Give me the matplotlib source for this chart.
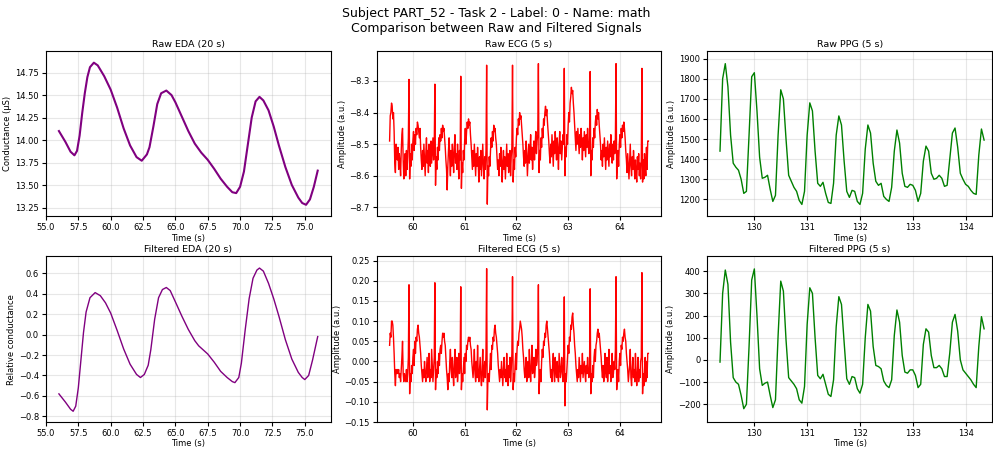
import numpy as np
import matplotlib
matplotlib.use("Agg")
import matplotlib.pyplot as plt
from matplotlib.ticker import MultipleLocator

# --- EDA (20 s window) ---
eda_t = [56.0, 56.5, 56.9, 57.2, 57.4, 57.6, 57.8, 58.0, 58.2, 58.4, 58.7, 59.0,
         59.5, 60.0, 60.5, 61.0, 61.5, 62.0, 62.4, 62.8, 63.0, 63.3, 63.6, 63.9,
         64.3, 64.7, 65.0, 65.5, 66.0, 66.5, 67.0, 67.5, 68.0, 68.5, 69.0, 69.4,
         69.7, 70.0, 70.3, 70.6, 70.9, 71.2, 71.5, 71.8, 72.2, 72.6, 73.0, 73.5,
         74.0, 74.5, 74.8, 75.1, 75.4, 75.7, 76.0]
eda_raw = [14.10, 13.98, 13.87, 13.83, 13.88, 14.05, 14.30, 14.52, 14.70, 14.81, 14.86, 14.83,
           14.71, 14.56, 14.36, 14.13, 13.94, 13.81, 13.77, 13.84, 13.92, 14.15, 14.40, 14.52,
           14.55, 14.50, 14.42, 14.26, 14.10, 13.96, 13.86, 13.78, 13.68, 13.57, 13.48, 13.42,
           13.41, 13.48, 13.65, 13.95, 14.25, 14.43, 14.48, 14.44, 14.33, 14.15, 13.94, 13.70,
           13.50, 13.36, 13.30, 13.28, 13.34, 13.48, 13.66]

eda_ft = [56.0, 56.5, 56.9, 57.1, 57.3, 57.5, 57.7, 57.9, 58.1, 58.4, 58.8, 59.2,
          59.6, 60.0, 60.5, 61.0, 61.5, 62.0, 62.3, 62.6, 62.9, 63.1, 63.4, 63.7,
          64.0, 64.3, 64.6, 65.0, 65.5, 66.0, 66.5, 66.8, 67.5, 68.0, 68.5, 69.0,
          69.4, 69.6, 69.9, 70.1, 70.4, 70.7, 71.0, 71.3, 71.5, 71.8, 72.2, 72.6,
          73.0, 73.5, 74.0, 74.5, 74.8, 75.0, 75.3, 75.6, 76.0]
eda_filt = [-0.58, -0.66, -0.73, -0.75, -0.70, -0.52, -0.25, 0.02, 0.22, 0.36, 0.41, 0.38,
            0.31, 0.21, 0.04, -0.14, -0.29, -0.39, -0.42, -0.39, -0.30, -0.15, 0.15, 0.36,
            0.44, 0.46, 0.43, 0.32, 0.18, 0.05, -0.06, -0.11, -0.19, -0.27, -0.36, -0.42,
            -0.46, -0.47, -0.42, -0.28, 0.05, 0.35, 0.55, 0.63, 0.65, 0.62, 0.50, 0.35,
            0.18, -0.05, -0.24, -0.37, -0.42, -0.44, -0.40, -0.25, -0.02]

# --- ECG (5 s window, 80 samples/s) ---
ecg_start = 59.55
ecg_fs = 80
ecg_raw = [
    -8.49, -8.41, -8.40, -8.37, -8.38, -8.42, -8.40, -8.46, -8.56, -8.59, -8.50, -8.52, -8.55, -8.51, -8.58,
    -8.53, -8.56, -8.60, -8.52, -8.47, -8.45, -8.55, -8.61, -8.56, -8.53, -8.60, -8.52, -8.58, -8.54, -8.48,
    # beat 1
    -8.295, -8.61, -8.53, -8.57, -8.50, -8.55, -8.49, -8.46, -8.52, -8.47, -8.50, -8.45, -8.47, -8.43, -8.44, -8.46, -8.48, -8.45, -8.51, -8.55,
    -8.58, -8.52, -8.57, -8.50, -8.55, -8.60, -8.53, -8.48, -8.56, -8.52, -8.59, -8.50, -8.54, -8.57, -8.49, -8.56, -8.52, -8.48, -8.55, -8.51,
    # beat 2
    -8.31, -8.63, -8.54, -8.58, -8.51, -8.55, -8.48, -8.52, -8.47, -8.49, -8.45, -8.48, -8.44, -8.46, -8.45, -8.48, -8.51, -8.55, -8.58, -8.645,
    -8.57, -8.52, -8.48, -8.55, -8.60, -8.52, -8.57, -8.50, -8.54, -8.59, -8.51, -8.47, -8.56, -8.53, -8.58, -8.50, -8.55, -8.61, -8.52, -8.55,
    # beat 3
    -8.285, -8.64, -8.56, -8.59, -8.52, -8.55, -8.49, -8.45, -8.50, -8.46, -8.43, -8.45, -8.42, -8.44, -8.43, -8.47, -8.50, -8.54, -8.58, -8.52,
    -8.57, -8.50, -8.55, -8.60, -8.53, -8.57, -8.51, -8.56, -8.62, -8.54, -8.58, -8.52, -8.60, -8.55, -8.50, -8.57, -8.61, -8.54, -8.58, -8.52,
    # beat 4
    -8.25, -8.69, -8.57, -8.60, -8.54, -8.57, -8.52, -8.48, -8.51, -8.46, -8.49, -8.44, -8.46, -8.45, -8.48, -8.50, -8.54, -8.58, -8.55, -8.60,
    -8.53, -8.57, -8.51, -8.55, -8.62, -8.56, -8.52, -8.58, -8.54, -8.61, -8.55, -8.50, -8.57, -8.53, -8.59, -8.55, -8.52, -8.60, -8.54, -8.51,
    # beat 5
    -8.25, -8.62, -8.55, -8.58, -8.51, -8.54, -8.48, -8.45, -8.47, -8.42, -8.44, -8.40, -8.42, -8.41, -8.44, -8.47, -8.50, -8.54, -8.57, -8.52,
    -8.56, -8.49, -8.53, -8.60, -8.55, -8.50, -8.56, -8.52, -8.47, -8.55, -8.51, -8.58, -8.53, -8.49, -8.55, -8.50, -8.46, -8.53, -8.49, -8.47,
    # beat 6
    -8.245, -8.59, -8.52, -8.55, -8.48, -8.51, -8.45, -8.48, -8.42, -8.44, -8.40, -8.38, -8.41, -8.39, -8.43, -8.46, -8.49, -8.53, -8.56, -8.50,
    -8.54, -8.47, -8.52, -8.57, -8.49, -8.53, -8.46, -8.51, -8.55, -8.48, -8.52, -8.58, -8.50, -8.46, -8.53, -8.49, -8.55, -8.51, -8.47, -8.50,
    # beat 7
    -8.26, -8.60, -8.51, -8.54, -8.47, -8.50, -8.44, -8.40, -8.43, -8.37, -8.35, -8.32, -8.34, -8.33, -8.37, -8.40, -8.44, -8.48, -8.52, -8.46,
    -8.50, -8.45, -8.49, -8.53, -8.47, -8.51, -8.45, -8.49, -8.55, -8.48, -8.52, -8.46, -8.50, -8.54, -8.47, -8.51, -8.45, -8.50, -8.53, -8.49,
    # beat 8
    -8.27, -8.60, -8.52, -8.55, -8.48, -8.51, -8.45, -8.48, -8.43, -8.41, -8.44, -8.39, -8.42, -8.40, -8.44, -8.47, -8.50, -8.55, -8.52, -8.57,
    -8.50, -8.54, -8.48, -8.53, -8.58, -8.51, -8.55, -8.49, -8.53, -8.57, -8.50, -8.54, -8.47, -8.52, -8.56, -8.50, -8.55, -8.49, -8.53, -8.48,
    # beat 9
    -8.245, -8.61, -8.56, -8.52, -8.57, -8.50, -8.47, -8.51, -8.45, -8.48, -8.44, -8.46, -8.43, -8.45, -8.48, -8.52, -8.55, -8.59, -8.53, -8.57,
    -8.61, -8.55, -8.50, -8.57, -8.60, -8.54, -8.58, -8.52, -8.56, -8.61, -8.55, -8.59, -8.62, -8.54, -8.58, -8.53, -8.60, -8.56, -8.61, -8.55,
    # beat 10
    -8.26, -8.62, -8.55, -8.61, -8.53, -8.57, -8.60, -8.51, -8.58, -8.49, -8.49]

ecg_filt = [
    0.04, 0.07, 0.06, 0.10, 0.10, 0.09, 0.06, 0.02, -0.03, -0.06, -0.02, -0.03, -0.02, -0.03, -0.02,
    -0.04, -0.03, -0.05, -0.02, 0.01, 0.05, -0.03, -0.05, -0.03, -0.04, -0.05, -0.02, -0.05, -0.03, 0.01,
    # beat 1
    0.19, -0.08, -0.03, -0.05, -0.01, -0.03, 0.01, 0.03, -0.01, 0.05, 0.02, 0.06, 0.05, 0.08, 0.09, 0.07, 0.06, 0.04, 0.02, -0.01,
    -0.03, -0.05, -0.02, -0.04, 0.00, -0.03, -0.05, -0.02, 0.01, -0.04, -0.03, 0.02, -0.05, -0.02, -0.04, 0.03, -0.01, -0.05, -0.02, 0.01,
    # beat 2
    0.195, -0.07, -0.02, -0.04, 0.00, -0.03, 0.02, -0.01, 0.03, 0.04, 0.02, 0.05, 0.07, 0.06, 0.07, 0.05, 0.04, 0.01, -0.02, -0.04,
    -0.07, -0.03, -0.05, 0.00, 0.03, -0.02, -0.04, 0.01, -0.03, -0.06, -0.01, 0.03, -0.04, -0.02, 0.01, -0.05, -0.02, 0.02, -0.03, -0.01,
    # beat 3
    0.185, -0.07, -0.03, -0.05, -0.02, 0.01, -0.03, 0.02, 0.00, 0.04, 0.03, 0.05, 0.06, 0.05, 0.06, 0.04, 0.03, 0.00, -0.02, -0.04,
    -0.01, 0.03, -0.03, -0.05, 0.00, -0.04, 0.04, -0.03, -0.05, -0.02, 0.01, -0.04, -0.06, -0.02, 0.03, -0.05, -0.03, 0.00, -0.04, 0.02,
    # beat 4
    0.23, -0.12, -0.04, -0.03, -0.05, -0.01, 0.02, -0.02, 0.04, 0.03, 0.06, 0.05, 0.08, 0.09, 0.07, 0.06, 0.04, 0.02, -0.01, -0.03,
    -0.05, -0.02, -0.04, 0.00, -0.03, -0.06, -0.02, 0.01, -0.04, -0.02, -0.05, 0.02, -0.03, -0.06, -0.01, -0.04, 0.01, -0.05, -0.02, 0.02,
    # beat 5
    0.21, -0.07, -0.03, -0.05, -0.01, 0.02, -0.02, 0.03, 0.05, 0.04, 0.07, 0.08, 0.10, 0.09, 0.08, 0.06, 0.03, 0.01, -0.02, -0.04,
    -0.02, 0.01, -0.05, -0.03, 0.00, -0.04, 0.03, -0.02, -0.05, -0.01, 0.04, -0.03, -0.02, 0.01, -0.04, -0.02, 0.03, -0.01, 0.00, 0.04,
    # beat 6
    0.19, -0.08, -0.04, -0.02, -0.05, 0.00, 0.03, 0.01, 0.05, 0.04, 0.07, 0.06, 0.09, 0.10, 0.08, 0.06, 0.04, 0.02, -0.01, -0.04,
    -0.02, -0.05, -0.01, 0.02, -0.03, -0.05, 0.01, -0.02, -0.04, 0.00, -0.03, -0.05, 0.02, -0.01, -0.04, -0.02, 0.01, -0.03, -0.05, 0.01,
    # beat 7
    0.16, -0.11, -0.03, -0.05, -0.02, 0.01, 0.04, 0.02, 0.06, 0.05, 0.09, 0.08, 0.11, 0.12, 0.09, 0.07, 0.04, 0.02, -0.01, -0.03,
    -0.05, -0.02, -0.04, 0.01, -0.02, -0.05, -0.01, -0.03, 0.02, -0.04, -0.02, 0.00, -0.03, -0.05, -0.01, -0.03, 0.01, -0.02, -0.04, -0.02,
    # beat 8
    0.18, -0.08, -0.03, -0.05, -0.01, -0.04, 0.01, 0.03, 0.00, 0.04, 0.05, 0.07, 0.08, 0.06, 0.07, 0.05, 0.03, 0.01, -0.02, -0.04,
    -0.01, -0.05, -0.03, 0.02, -0.02, -0.04, 0.01, -0.05, -0.02, 0.03, -0.03, -0.01, -0.05, -0.02, 0.02, -0.04, -0.03, 0.00, -0.02, 0.03,
    # beat 9
    0.21, -0.07, -0.04, -0.02, -0.05, 0.00, 0.02, -0.01, 0.04, 0.03, 0.06, 0.05, 0.07, 0.08, 0.06, 0.05, 0.02, 0.00, -0.02, -0.05,
    -0.03, -0.01, 0.03, -0.04, -0.06, -0.02, 0.01, -0.04, -0.02, -0.05, 0.02, -0.03, -0.06, -0.03, 0.01, -0.05, -0.02, -0.04, 0.00, 0.01,
    # beat 10
    0.22, -0.08, -0.03, -0.06, -0.02, 0.01, -0.05, 0.00, -0.04, 0.02, 0.02]

# --- PPG (5 s window, 20 samples/s) ---
ppg_start = 129.35
ppg_fs = 20
ppg_raw = [1440, 1800, 1875, 1760, 1520, 1380, 1360, 1345, 1300, 1230,
           1240, 1520, 1810, 1830, 1640, 1410, 1305, 1310, 1320, 1250,
           1190, 1220, 1520, 1745, 1700, 1500, 1320, 1290, 1260, 1240,
           1195, 1175, 1240, 1520, 1680, 1640, 1440, 1280, 1265, 1285,
           1230, 1185, 1180, 1280, 1520, 1615, 1570, 1390, 1240, 1210,
           1245, 1240, 1190, 1175, 1230, 1450, 1570, 1530, 1380, 1290,
           1270, 1280, 1215, 1200, 1190, 1260, 1440, 1545, 1480, 1330,
           1265, 1260, 1275, 1270, 1245, 1190, 1230, 1390, 1465, 1440,
           1330, 1300, 1305, 1320, 1305, 1265, 1270, 1400, 1530, 1555,
           1460, 1330, 1300, 1275, 1265, 1245, 1230, 1225, 1420, 1550,
           1495]
ppg_filt = [-10, 300, 405, 340, 80, -80, -100, -110, -160, -220,
            -200, 60, 360, 410, 200, -40, -115, -105, -100, -160,
            -215, -180, 110, 355, 310, 90, -80, -95, -110, -130,
            -180, -195, -120, 160, 325, 300, 100, -70, -85, -65,
            -110, -155, -165, -90, 150, 285, 250, 80, -85, -110,
            -75, -80, -130, -150, -110, 100, 250, 220, 60, -25,
            -30, -40, -95, -115, -125, -90, 110, 225, 170, 20,
            -55, -60, -45, -45, -70, -125, -110, 70, 140, 125,
            20, -35, -35, -25, -40, -75, -75, 30, 170, 205,
            130, 0, -45, -60, -75, -90, -110, -125, 60, 195,
            140]

ecg_t_raw = ecg_start + np.arange(len(ecg_raw)) / ecg_fs
ecg_t_filt = ecg_start + np.arange(len(ecg_filt)) / ecg_fs
ppg_t_raw = ppg_start + np.arange(len(ppg_raw)) / ppg_fs
ppg_t_filt = ppg_start + np.arange(len(ppg_filt)) / ppg_fs

fs_small = 6

fig, axes = plt.subplots(2, 3, figsize=(9.93, 4.5), dpi=100)
fig.subplots_adjust(left=0.0463, right=0.999, top=0.8867, bottom=0.0622,
                    wspace=0.1616, hspace=0.2417)
fig.suptitle("Subject PART_52 - Task 2 - Label: 0 - Name: math\nComparison between Raw and Filtered Signals",
             fontsize=9, y=0.985)

panels = [
    (axes[0, 0], eda_t, eda_raw, "purple", 1.5, "Raw EDA (20 s)", "Conductance (µS)", (13.15, 14.99)),
    (axes[0, 1], ecg_t_raw, ecg_raw, "red", 1.0, "Raw ECG (5 s)", "Amplitude (a.u.)", (-8.729, -8.205)),
    (axes[0, 2], ppg_t_raw, ppg_raw, "green", 1.0, "Raw PPG (5 s)", "Amplitude (a.u.)", (1115, 1938)),
    (axes[1, 0], eda_ft, eda_filt, "purple", 1.0, "Filtered EDA (20 s)", "Relative conductance", (-0.855, 0.763)),
    (axes[1, 1], ecg_t_filt, ecg_filt, "red", 1.0, "Filtered ECG (5 s)", "Amplitude (a.u.)", (-0.15, 0.26)),
    (axes[1, 2], ppg_t_filt, ppg_filt, "green", 1.0, "Filtered PPG (5 s)", "Amplitude (a.u.)", (-280, 466)),
]

for ax, x, y, c, lw, title, ylab, ylim in panels:
    ax.plot(x, y, color=c, linewidth=lw)
    ax.set_title(title, fontsize=6.8, pad=3)
    ax.set_xlabel("Time (s)", fontsize=fs_small, labelpad=1)
    ax.set_ylabel(ylab, fontsize=fs_small, labelpad=2)
    ax.set_ylim(*ylim)
    ax.tick_params(labelsize=fs_small, length=3, pad=2)
    ax.grid(True, alpha=0.3)

axes[0, 0].yaxis.set_major_locator(MultipleLocator(0.25))
axes[0, 2].set_xlim(129.11, 134.5)
axes[1, 2].set_xlim(129.11, 134.5)

fig.savefig("out.png", dpi=100)
